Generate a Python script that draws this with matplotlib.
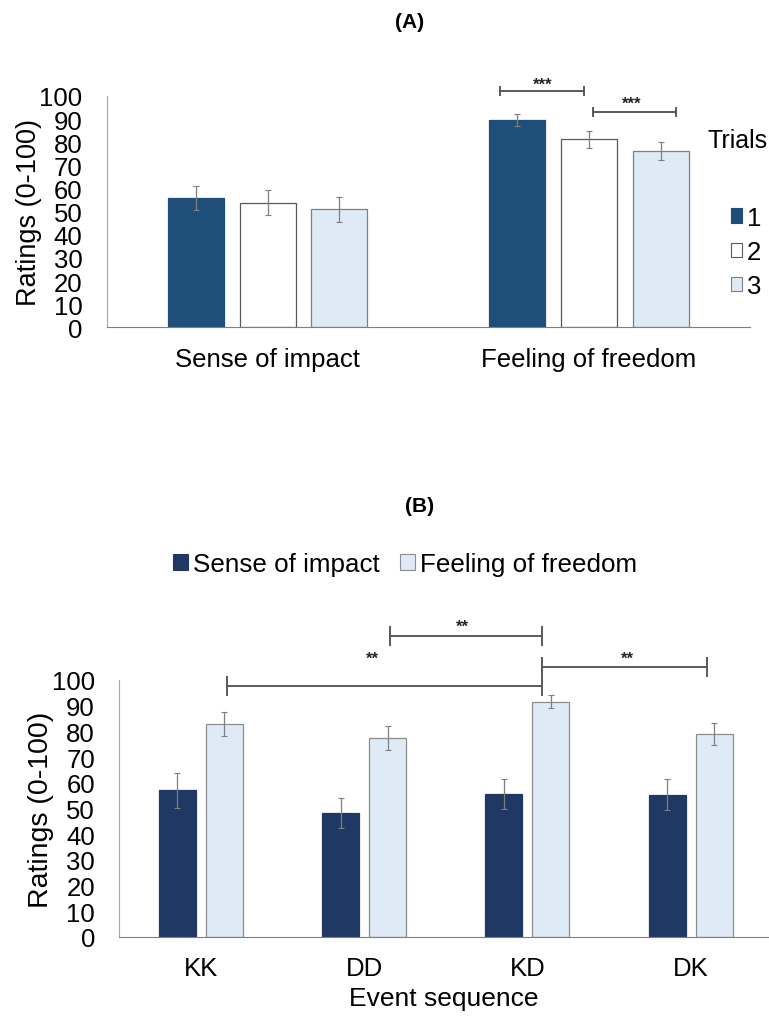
import numpy as np
import matplotlib
matplotlib.use("Agg")
import matplotlib.pyplot as plt
from matplotlib.patches import Patch

plt.rcParams['font.family'] = ['Liberation Sans', 'DejaVu Sans']

# ---- Panel A data ----
a_categories = ["Sense of impact", "Feeling of freedom"]
a_trials = ["1", "2", "3"]
a_means = [
    [56.1, 89.6],   # trial 1
    [53.9, 81.3],   # trial 2
    [51.0, 76.3],   # trial 3
]
a_errors = [
    [5.2, 2.7],
    [5.4, 3.7],
    [5.3, 3.9],
]
# brackets: (x_start, x_end, y, label, label_x, label_y)
a_brackets = [
    (0.722, 0.985, 102.1, "***", 0.856, 105.0),
    (1.012, 1.270, 93.0, "***", 1.133, 97.0),
]

# ---- Panel B data ----
b_categories = ["KK", "DD", "KD", "DK"]
b_series = ["Sense of impact", "Feeling of freedom"]
b_impact = [57.0, 48.2, 55.6, 55.4]
b_impact_err = [6.8, 5.8, 5.8, 6.0]
b_freedom = [82.8, 77.3, 91.6, 78.9]
b_freedom_err = [4.7, 4.7, 2.5, 4.4]
b_brackets = [
    (0.16, 2.09, 97.8, "**", 1.05, 108.5),
    (1.16, 2.09, 117.2, "**", 1.60, 120.8),
    (2.09, 3.10, 104.9, "**", 2.61, 108.5),
]

yticks = list(range(0, 101, 10))

fig = plt.figure(figsize=(7.69, 10.2), dpi=100)

err_kw = dict(ecolor='#7F7F7F', elinewidth=0.9, capsize=2.5, capthick=0.8)
bracket_color = '#595959'


def draw_bracket(ax, x0, x1, y, label, lx, ly, tick, fs):
    ax.plot([x0, x1], [y, y], color=bracket_color, lw=1.4, clip_on=False)
    ax.plot([x0, x0], [y - tick, y + tick], color=bracket_color, lw=1.4, clip_on=False)
    ax.plot([x1, x1], [y - tick, y + tick], color=bracket_color, lw=1.4, clip_on=False)
    ax.text(lx, ly, label, ha='center', va='center', fontsize=fs,
            fontweight='bold', color='#262626', clip_on=False)


def style_axis(ax, ylabel_size, ylabel_pad):
    ax.set_ylim(0, 100)
    ax.set_yticks(yticks)
    ax.set_yticklabels([str(t) for t in yticks], fontsize=18.5)
    ax.spines['top'].set_visible(False)
    ax.spines['right'].set_visible(False)
    ax.spines['left'].set_color('#A6A6A6')
    ax.spines['bottom'].set_color('#7F7F7F')
    ax.tick_params(axis='y', length=0, pad=17.5)
    ax.tick_params(axis='x', length=0, pad=14, labelsize=18.5)
    ax.set_ylabel("Ratings (0-100)", fontsize=ylabel_size, labelpad=ylabel_pad)


# ---------- Panel A ----------
axA = fig.add_axes([0.139, 0.678, 0.836, 0.227])
xA = np.arange(len(a_categories))
w_a = 0.174
step_a = 0.223
a_face = ['#1F4E79', '#FFFFFF', '#DEEBF7']
a_edge = ['#1F4E79', '#595959', '#7F7F7F']
handles_a = []
for i, trial in enumerate(a_trials):
    pos = xA + (i - 1) * step_a
    axA.bar(pos, a_means[i], width=w_a, color=a_face[i], edgecolor=a_edge[i],
            linewidth=0.9, yerr=a_errors[i], error_kw=err_kw, zorder=2)
    handles_a.append(Patch(facecolor=a_face[i], edgecolor=a_edge[i], linewidth=0.8))
axA.set_xlim(-0.5, 1.5)
axA.set_xticks(xA)
axA.set_xticklabels(a_categories)
style_axis(axA, 19.5, -1.5)
for x0, x1, y, lab, lx, ly in a_brackets:
    draw_bracket(axA, x0, x1, y, lab, lx, ly, 1.6, 12)

fig.text(0.533, 0.978, "(A)", ha='center', va='center', fontsize=15, fontweight='bold')
fig.text(0.920, 0.862, "Trials", ha='left', va='center', fontsize=18)
fig.legend(handles_a, a_trials, loc='center left', bbox_to_anchor=(0.951, 0.752),
           frameon=False, fontsize=18.5, handlelength=0.42, handleheight=0.5,
           handletextpad=0.2, labelspacing=0.4, borderpad=0, borderaxespad=0)

# ---------- Panel B ----------
axB = fig.add_axes([0.155, 0.0804, 0.845, 0.252])
xB = np.arange(len(b_categories))
w_b = 0.226
off_b = 0.144
b_face = ['#203864', '#DEEBF7']
b_edge = ['#203864', '#8C8C8C']
axB.bar(xB - off_b, b_impact, width=w_b, color=b_face[0], edgecolor=b_edge[0],
        linewidth=0.9, yerr=b_impact_err, error_kw=err_kw, zorder=2)
axB.bar(xB + off_b, b_freedom, width=w_b, color=b_face[1], edgecolor=b_edge[1],
        linewidth=0.9, yerr=b_freedom_err, error_kw=err_kw, zorder=2)
axB.set_xlim(-0.5, 3.48)
axB.set_xticks(xB)
axB.set_xticklabels(b_categories)
style_axis(axB, 20.5, -1.5)
axB.set_xlabel("Event sequence", fontsize=19, labelpad=4)
for x0, x1, y, lab, lx, ly in b_brackets:
    draw_bracket(axB, x0, x1, y, lab, lx, ly, 3.5, 12)

fig.text(0.545, 0.503, "(B)", ha='center', va='center', fontsize=15, fontweight='bold')
handles_b = [Patch(facecolor=b_face[i], edgecolor=b_edge[i], linewidth=0.8) for i in range(2)]
fig.legend(handles_b, b_series, loc='center', bbox_to_anchor=(0.527, 0.446),
           ncol=2, frameon=False, fontsize=18.7, handlelength=0.55, handleheight=0.6,
           handletextpad=0.2, columnspacing=0.8, borderpad=0, borderaxespad=0)

fig.savefig("out.png", dpi=100, facecolor='white')
